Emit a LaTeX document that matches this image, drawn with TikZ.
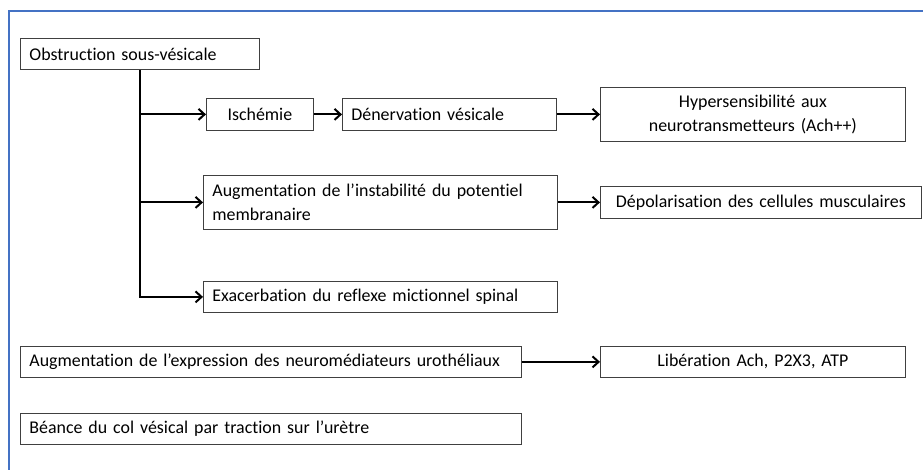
\documentclass[tikz,border=0pt]{standalone}
\usepackage{fontspec}
\setmainfont{Carlito}[Ligatures={NoCommon}]
\usetikzlibrary{arrows.meta}
\definecolor{framblue}{HTML}{4472C4}
\tikzset{
  box/.style={draw=black!75, line width=0.8pt, fill=white, anchor=north west,
    font=\fontsize{17.9}{23.5}\selectfont, inner xsep=9pt, inner ysep=0pt},
  lbox/.style={box, align=left},
  cbox/.style={box, align=center},
  flow/.style={line width=2pt, -{Straight Barb[length=6pt,width=11pt]}}
}
\begin{document}
\begin{tikzpicture}[x=1pt,y=-1pt]
  \useasboundingbox (0,0) rectangle (923,470);
  \draw[framblue,line width=1.5pt] (9,472) -- (9,11) -- (925,11);
  % left column
  \node[lbox,text width=221pt,minimum height=31pt] (obs) at (20,38) {Obstruction sous-vésicale};
  \node[lbox,text width=483pt,minimum height=31pt] (expr) at (20,346) {Augmentation de l’expression des neuromédiateurs urothéliaux};
  \node[lbox,text width=483pt,minimum height=31pt] (bea) at (20,413) {Béance du col vésical par traction sur l’urètre};
  % middle column
  \node[cbox,text width=89pt,minimum height=32pt] (isch) at (206,98) {Ischémie};
  \node[lbox,text width=196pt,minimum height=32pt] (den) at (342,98) {Dénervation vésicale};
  \node[lbox,text width=336pt,minimum height=54pt] (inst) at (203,175) {Augmentation de l’instabilité du potentiel\\membranaire};
  \node[lbox,text width=336pt,minimum height=31pt] (exa) at (203,281) {Exacerbation du reflexe mictionnel spinal};
  % right column
  \node[cbox,text width=287pt,minimum height=54pt] (hyp) at (600,87) {Hypersensibilité aux\\neurotransmetteurs (Ach++)};
  \node[cbox,text width=303pt,minimum height=32pt] (dep) at (600,186) {Dépolarisation des cellules musculaires};
  \node[cbox,text width=287pt,minimum height=31pt] (lib) at (600,346) {Libération Ach, P2X3, ATP};
  % connectors
  \draw[flow] (obs.south) |- (exa.west);
  \draw[flow] (obs.south |- isch.west) -- (isch.west);
  \draw[flow] (obs.south |- inst.west) -- (inst.west);
  \draw[flow] (isch.east) -- (den.west);
  \draw[flow] (den.east) -- (hyp.west);
  \draw[flow] (inst.east) -- (dep.west);
  \draw[flow] (expr.east) -- (lib.west);
\end{tikzpicture}
\end{document}
